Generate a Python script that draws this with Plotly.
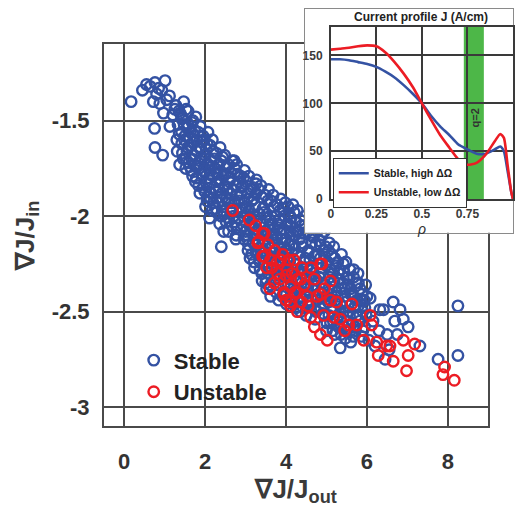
import plotly.graph_objects as go

# ---- scatter data: gradient ratios for stable / unstable equilibria ----
stable_x = [0.17, 0.45, 0.55, 0.64, 0.76, 0.85, 1.01, 0.93, 0.72, 0.88, 1.05, 1.25, 0.97, 1.12, 0.80,
            1.42, 0.75, 1.13, 0.76, 0.95, 1.20, 1.35,
            1.58, 1.42, 1.74, 1.95, 1.42, 1.66, 1.46, 1.37, 1.66, 1.87, 2.15, 1.99, 1.50, 1.62, 1.80,
            1.55, 1.72, 1.90, 2.05, 1.52, 1.78, 1.95, 2.10, 1.60, 1.85, 2.00, 2.20, 1.30, 1.48, 1.70,
            2.40, 2.72, 2.25, 2.50, 2.30, 2.60, 2.15, 2.35, 2.55, 2.75, 2.90, 2.11, 2.27, 2.52, 2.45,
            2.65, 2.85, 2.20, 2.40, 2.70, 2.90, 2.05, 2.35, 2.62, 2.80, 2.95, 2.40, 2.58, 2.78, 2.95,
            2.30, 2.12,
            3.26, 3.26, 3.05, 3.15, 3.40, 3.55, 3.70, 3.85, 3.00, 3.20, 3.45, 3.60, 3.80, 3.95, 3.10,
            3.30, 3.50, 3.75, 3.90, 3.05, 3.25, 3.45, 3.65, 3.85, 3.15, 3.35, 3.55, 3.75, 3.95, 3.40,
            3.62, 3.50, 3.80, 3.95, 3.00, 3.70, 3.20, 3.55,
            4.05, 4.20, 4.35, 4.10, 4.30, 4.45, 4.60, 4.85, 4.00, 4.20, 4.40, 4.55, 4.75, 4.95, 4.05,
            4.25, 4.45, 4.65, 4.85, 4.10, 4.30, 4.50, 4.70, 4.90, 4.15, 4.35, 4.55, 4.73, 4.95, 4.25,
            4.50, 4.75, 4.60, 4.80, 4.95,
            5.05, 5.20, 5.42, 5.67, 5.79, 5.10, 5.30, 5.50, 5.05, 5.25, 5.45, 5.65, 5.85, 5.15, 5.35,
            5.55, 5.75, 5.95, 5.10, 5.30, 5.50, 5.70, 5.20, 5.34, 5.60, 5.90, 5.00, 5.40, 5.60,
            6.00, 6.08, 6.32, 6.41, 6.65, 6.82, 6.90, 7.02, 6.69, 6.15, 6.30, 6.50, 6.20, 6.45, 6.55,
            7.31, 7.76, 8.25, 8.25, 6.05, 6.75,
            1.28, 1.33, 1.31, 1.47, 1.43, 1.49, 1.44, 1.58, 1.63, 1.57, 1.62,
            1.77, 1.73, 1.79, 1.74, 1.76, 1.88, 1.93, 1.89, 1.92, 1.87,
            2.07, 2.03, 2.08, 2.04, 2.06, 2.18, 2.23, 2.19, 2.22, 2.17,
            2.37, 2.33, 2.38, 2.34, 2.36, 2.48, 2.53, 2.49, 2.52, 2.47,
            2.67, 2.63, 2.68, 2.64, 2.66, 2.78, 2.83, 2.79, 2.82, 2.77,
            2.97, 2.93, 2.98, 2.94, 2.96, 3.08, 3.13, 3.09, 3.12, 3.07, 3.11,
            3.27, 3.23, 3.28, 3.24, 3.26, 3.22, 3.38, 3.43, 3.39, 3.42, 3.37, 3.41,
            3.57, 3.53, 3.58, 3.54, 3.56, 3.52, 3.68, 3.73, 3.69, 3.72, 3.67, 3.71,
            3.87, 3.83, 3.88, 3.84, 3.86, 3.82, 3.98, 4.03, 3.99, 4.02, 3.97, 4.01,
            4.17, 4.13, 4.18, 4.14, 4.16, 4.12, 4.17, 4.28, 4.33, 4.29, 4.32, 4.27, 4.31,
            4.47, 4.43, 4.48, 4.44, 4.46, 4.42, 4.58, 4.63, 4.59, 4.62, 4.57, 4.61,
            4.77, 4.73, 4.78, 4.74, 4.76, 4.72, 4.88, 4.93, 4.89, 4.92, 4.87, 4.91,
            5.07, 5.03, 5.08, 5.04, 5.06, 5.18, 5.23, 5.19, 5.22, 5.17,
            5.37, 5.33, 5.38, 5.34, 5.36, 5.48, 5.53, 5.49, 5.52, 5.47,
            5.67, 5.63, 5.68, 5.64, 5.66, 5.78, 5.83, 5.79, 5.82, 5.97, 5.93, 5.98, 5.94,
            1.38, 1.36, 1.53, 1.55, 1.52, 1.68, 1.70, 1.67, 1.69,
            1.83, 1.85, 1.82, 1.84, 1.98, 2.00, 1.97, 1.99, 2.01,
            2.13, 2.15, 2.12, 2.14, 2.28, 2.30, 2.27, 2.29,
            2.43, 2.45, 2.42, 2.44, 2.46, 2.58, 2.60, 2.57, 2.59,
            2.73, 2.75, 2.72, 2.74, 2.76, 2.88, 2.90, 2.87, 2.89,
            3.03, 3.05, 3.02, 3.04, 3.06, 3.18, 3.20, 3.17, 3.19, 3.21,
            3.33, 3.35, 3.32, 3.34, 3.36, 3.48, 3.50, 3.47, 3.49, 3.51,
            3.63, 3.65, 3.62, 3.64, 3.66, 3.61, 3.78, 3.80, 3.77, 3.79, 3.81, 3.76,
            3.93, 3.95, 3.92, 3.94, 3.96, 3.91, 4.08, 4.10, 4.07, 4.09, 4.11, 4.06,
            4.23, 4.25, 4.22, 4.24, 4.26, 4.21, 4.38, 4.40, 4.37, 4.39, 4.41, 4.36,
            4.53, 4.55, 4.52, 4.54, 4.56, 4.68, 4.70, 4.67, 4.69, 4.71,
            4.83, 4.85, 4.82, 4.84, 4.86, 4.98, 5.00, 4.97, 4.99, 5.01,
            5.13, 5.15, 5.12, 5.14, 5.16, 5.28, 5.30, 5.27, 5.29, 5.31,
            5.43, 5.45, 5.42, 5.44, 5.58, 5.60, 5.57, 5.59, 5.73, 5.75, 5.72, 5.88, 5.90, 5.87]
stable_y = [-1.40, -1.34, -1.31, -1.32, -1.30, -1.33, -1.29, -1.34, -1.40, -1.41, -1.39, -1.44, -1.46, -1.37, -1.36,
            -1.49, -1.54, -1.53, -1.64, -1.68, -1.47, -1.45,
            -1.52, -1.56, -1.55, -1.58, -1.62, -1.63, -1.70, -1.73, -1.76, -1.71, -1.71, -1.77, -1.58, -1.59, -1.60,
            -1.66, -1.68, -1.65, -1.62, -1.75, -1.80, -1.85, -1.80, -1.72, -1.75, -1.68, -1.66, -1.60, -1.52, -1.50,
            -1.71, -1.71, -1.75, -1.78, -1.82, -1.80, -1.88, -1.90, -1.86, -1.84, -1.85, -2.01, -1.96, -2.03, -1.95,
            -1.93, -1.92, -1.93, -2.00, -2.00, -1.98, -1.92, -1.86, -1.88, -1.78, -1.80, -2.16, -2.08, -2.06, -2.05,
            -1.78, -1.76,
            -1.83, -1.88, -1.88, -1.92, -1.90, -1.92, -1.95, -1.97, -1.95, -2.00, -1.98, -2.02, -2.04, -2.00, -2.05,
            -2.07, -2.08, -2.10, -2.12, -2.12, -2.15, -2.18, -2.16, -2.20, -2.20, -2.24, -2.26, -2.28, -2.30, -2.30,
            -2.42, -2.35, -2.36, -2.40, -2.08, -2.22, -2.10, -2.12,
            -1.95, -1.98, -2.02, -2.05, -2.08, -2.05, -2.10, -2.15, -2.12, -2.15, -2.14, -2.18, -2.20, -2.20, -2.22,
            -2.25, -2.24, -2.28, -2.30, -2.30, -2.34, -2.33, -2.36, -2.38, -2.40, -2.42, -2.44, -2.42, -2.46, -2.48,
            -2.52, -2.50, -1.98, -2.02, -2.08,
            -2.18, -2.22, -2.25, -2.28, -2.35, -2.28, -2.30, -2.32, -2.38, -2.40, -2.42, -2.42, -2.44, -2.48, -2.50,
            -2.50, -2.52, -2.48, -2.56, -2.58, -2.60, -2.58, -2.62, -2.69, -2.66, -2.60, -2.60, -2.35, -2.38,
            -2.42, -2.43, -2.49, -2.49, -2.45, -2.49, -2.54, -2.58, -2.55, -2.55, -2.60, -2.62, -2.68, -2.75, -2.70,
            -2.68, -2.75, -2.73, -2.47, -2.65, -2.62,
            -1.42, -1.52, -1.66, -1.40, -1.48, -1.60, -1.67, -1.45, -1.56, -1.64, -1.74,
            -1.48, -1.58, -1.66, -1.73, -1.82, -1.53, -1.61, -1.69, -1.78, -1.88,
            -1.56, -1.65, -1.73, -1.83, -1.90, -1.60, -1.70, -1.79, -1.85, -1.97,
            -1.64, -1.73, -1.81, -1.93, -2.04, -1.68, -1.74, -1.84, -1.91, -1.99,
            -1.71, -1.77, -1.86, -1.96, -2.05, -1.73, -1.82, -1.89, -2.01, -2.10,
            -1.76, -1.84, -1.93, -2.00, -2.12, -1.79, -1.86, -1.97, -2.01, -2.15, -2.22,
            -1.81, -1.94, -2.02, -2.12, -2.19, -2.27, -1.84, -1.96, -2.04, -2.14, -2.21, -2.34,
            -1.86, -1.99, -2.06, -2.20, -2.30, -2.38, -1.89, -2.00, -2.07, -2.14, -2.25, -2.33,
            -1.91, -2.02, -2.09, -2.16, -2.28, -2.44, -1.93, -2.04, -2.18, -2.26, -2.35, -2.46,
            -1.94, -2.01, -2.10, -2.19, -2.28, -2.37, -2.43, -1.97, -2.12, -2.20, -2.29, -2.38, -2.45,
            -2.00, -2.09, -2.22, -2.30, -2.36, -2.48, -2.03, -2.14, -2.23, -2.32, -2.40, -2.47,
            -2.08, -2.15, -2.25, -2.33, -2.44, -2.54, -2.10, -2.18, -2.27, -2.35, -2.43, -2.51,
            -2.14, -2.24, -2.32, -2.45, -2.52, -2.16, -2.26, -2.34, -2.44, -2.55,
            -2.20, -2.28, -2.38, -2.46, -2.62, -2.24, -2.36, -2.45, -2.55, -2.64,
            -2.32, -2.40, -2.48, -2.56, -2.63, -2.30, -2.38, -2.47, -2.55, -2.36, -2.44, -2.52, -2.58,
            -1.46, -1.57, -1.44, -1.53, -1.70, -1.51, -1.61, -1.70, -1.79,
            -1.56, -1.64, -1.74, -1.84, -1.60, -1.70, -1.76, -1.87, -1.95,
            -1.63, -1.74, -1.83, -1.91, -1.67, -1.77, -1.87, -1.98,
            -1.69, -1.79, -1.88, -1.97, -2.08, -1.73, -1.82, -1.93, -2.01,
            -1.75, -1.84, -1.93, -2.03, -2.12, -1.79, -1.88, -1.96, -2.07,
            -1.82, -1.91, -1.99, -2.10, -2.18, -1.85, -1.91, -2.05, -2.14, -2.24,
            -1.86, -1.99, -2.08, -2.17, -2.28, -1.89, -2.01, -2.10, -2.24, -2.33,
            -1.92, -2.04, -2.11, -2.19, -2.28, -2.36, -1.94, -2.06, -2.12, -2.21, -2.31, -2.40,
            -1.96, -2.07, -2.14, -2.22, -2.31, -2.42, -1.99, -2.08, -2.15, -2.24, -2.33, -2.44,
            -2.03, -2.08, -2.17, -2.25, -2.34, -2.42, -2.05, -2.16, -2.27, -2.35, -2.43, -2.50,
            -2.08, -2.19, -2.27, -2.37, -2.45, -2.11, -2.21, -2.30, -2.39, -2.49,
            -2.13, -2.22, -2.32, -2.40, -2.48, -2.16, -2.26, -2.36, -2.42, -2.56,
            -2.20, -2.30, -2.41, -2.50, -2.60, -2.24, -2.33, -2.42, -2.52, -2.57,
            -2.29, -2.38, -2.50, -2.58, -2.28, -2.41, -2.52, -2.60, -2.35, -2.44, -2.60, -2.41, -2.50, -2.63]

unstable_x = [2.68, 3.09, 3.46, 3.30, 3.42, 3.33, 3.42, 3.62, 3.87, 3.79, 4.03, 3.95, 4.11, 4.28, 4.11,
              3.71, 3.46, 3.79, 4.07, 4.00, 4.28, 4.61, 4.85, 5.10, 4.28, 4.52, 4.85, 4.11, 4.20, 4.89,
              4.36, 4.77, 5.10, 5.63, 5.34, 4.93, 4.61, 4.85, 5.02, 5.92, 6.08, 6.24, 6.57, 5.75, 5.55,
              5.18, 6.12, 6.28, 6.49, 6.65, 6.90, 7.02, 6.98, 7.18, 7.92, 7.88, 8.16, 3.95,
              3.55, 3.65, 3.85, 3.92, 4.15, 4.22, 4.40, 4.45, 4.55, 4.70, 4.95, 3.60, 4.00, 3.52,
              4.70, 5.25, 5.45, 4.38, 3.25, 3.72]
unstable_y = [-1.97, -2.02, -2.09, -2.14, -2.09, -2.13, -2.21, -2.23, -2.23, -2.30, -2.28, -2.41, -2.47, -2.50, -2.37,
              -2.35, -2.21, -2.24, -2.23, -2.31, -2.33, -2.27, -2.25, -2.34, -2.40, -2.42, -2.41, -2.45, -2.23, -2.25,
              -2.33, -2.42, -2.44, -2.46, -2.54, -2.52, -2.53, -2.62, -2.65, -2.65, -2.52, -2.66, -2.68, -2.57, -2.57,
              -2.53, -2.57, -2.73, -2.68, -2.76, -2.65, -2.73, -2.81, -2.67, -2.79, -2.83, -2.86, -2.40,
              -2.15, -2.27, -2.33, -2.20, -2.30, -2.40, -2.27, -2.36, -2.47, -2.33, -2.38, -2.38, -2.44, -2.27,
              -2.58, -2.45, -2.60, -2.45, -2.05, -2.18]

# ---- inset data: current density profiles J(rho) ----
rho = [0.0, 0.05, 0.1, 0.15, 0.2, 0.25, 0.3, 0.35, 0.4, 0.45, 0.5, 0.55, 0.6, 0.65, 0.7,
       0.75, 0.8, 0.85, 0.9, 0.93, 0.95, 0.97, 0.99, 1.0]
j_stable = [146, 146, 145, 143, 141, 138, 133, 127, 119, 110, 100, 87, 76, 67, 57,
            52, 47.5, 47.5, 52, 55, 50, 30, 8, 0]
j_unstable = [156, 157, 158, 159.5, 160.5, 159.5, 153, 143, 131, 117, 100, 83, 67, 54, 41.5,
              36, 38, 46.5, 60.5, 68, 64, 36, 8, 0]
q2_band = [0.73, 0.84]

BLUE = "#3452A3"
RED = "#EC1C24"
GRID = "#4a4a4a"
FONT = "Liberation Sans"
W, H = 515, 513


def px_x(p):
    return p / W


def px_y(p):
    return 1 - p / H


fig = go.Figure()

marker_common = dict(symbol="circle-open", size=10.5)
fig.add_trace(go.Scatter(x=stable_x, y=stable_y, mode="markers", name="Stable",
                         marker=dict(color=BLUE, line=dict(color=BLUE, width=2.4), **marker_common),
                         xaxis="x", yaxis="y", legend="legend"))
fig.add_trace(go.Scatter(x=unstable_x, y=unstable_y, mode="markers", name="Unstable",
                         marker=dict(color=RED, line=dict(color=RED, width=2.4), **marker_common),
                         xaxis="x", yaxis="y", legend="legend"))

# white panel behind the inset
fig.add_trace(go.Scatter(x=[], y=[], xaxis="x2", yaxis="y2", showlegend=False))

fig.add_trace(go.Scatter(x=rho, y=j_stable, mode="lines", name="Stable, high ΔΩ",
                         line=dict(color=BLUE, width=2.6, shape="spline", smoothing=0.6),
                         xaxis="x3", yaxis="y3", legend="legend2"))
fig.add_trace(go.Scatter(x=rho, y=j_unstable, mode="lines", name="Unstable, low ΔΩ",
                         line=dict(color=RED, width=2.6, shape="spline", smoothing=0.6),
                         xaxis="x3", yaxis="y3", legend="legend2"))

tick_main = dict(family=FONT, size=22, color="#333333", weight="bold")
tick_inset = dict(family=FONT, size=12, color="#3a3a3a", weight="bold")

fig.update_layout(
    width=W, height=H,
    margin=dict(l=0, r=0, t=0, b=0),
    paper_bgcolor="white",
    plot_bgcolor="white",
    xaxis=dict(domain=[px_x(102), px_x(490)], range=[-0.5, 9], anchor="y",
               tickvals=[0, 2, 4, 6, 8], ticktext=["0", "2", "4", "6", "8"],
               showgrid=True, gridcolor=GRID, gridwidth=2, zeroline=False,
               showline=True, linecolor=GRID, linewidth=2, mirror=True, ticks="",
               tickfont=tick_main, ticklabelstandoff=14,
               title=dict(text="∇J/J<sub>out</sub>", standoff=6,
                          font=dict(family=FONT, size=26, color="#3a3a3a", weight="bold"))),
    yaxis=dict(domain=[px_y(432), px_y(45)], range=[-3.1, -1.1], anchor="x",
               tickvals=[-3, -2.5, -2, -1.5], ticktext=["-3", "-2.5", "-2", "-1.5"],
               showgrid=True, gridcolor=GRID, gridwidth=2, zeroline=False,
               showline=True, linecolor=GRID, linewidth=2, mirror=True, ticks="",
               tickfont=tick_main, ticklabelstandoff=8,
               title=dict(text="∇J/J<sub>in</sub>", standoff=10,
                          font=dict(family=FONT, size=26, color="#3a3a3a", weight="bold"))),
    xaxis2=dict(domain=[px_x(305), 1.0], range=[0, 1], anchor="y2",
                showgrid=False, zeroline=False, showticklabels=False, ticks="",
                showline=True, linecolor="#8a8a8a", linewidth=1, mirror=True),
    yaxis2=dict(domain=[px_y(236), px_y(9)], range=[0, 1], anchor="x2",
                showgrid=False, zeroline=False, showticklabels=False, ticks="",
                showline=True, linecolor="#8a8a8a", linewidth=1, mirror=True),
    xaxis3=dict(domain=[px_x(331), 1.0], range=[0, 1], anchor="y3",
                tickvals=[0, 0.25, 0.5, 0.75, 1], ticktext=["0", "0.25", "0.5", "0.75", "1"],
                showgrid=True, gridcolor="#3a3a3a", gridwidth=1.6, zeroline=False,
                showline=True, linecolor="#3a3a3a", linewidth=1.6, mirror=True, ticks="",
                tickfont=tick_inset, ticklabelstandoff=3,
                title=dict(text="<i>ρ</i>", standoff=2,
                           font=dict(family=FONT, size=14, color="#333333"))),
    yaxis3=dict(domain=[px_y(202), px_y(27)], range=[0, 180], anchor="x3",
                tickvals=[0, 50, 100, 150], ticktext=["0", "50", "100", "150"],
                showgrid=True, gridcolor="#3a3a3a", gridwidth=1.6, zeroline=False,
                showline=True, linecolor="#3a3a3a", linewidth=1.6, mirror=True, ticks="",
                tickfont=tick_inset, ticklabelstandoff=4),
    legend=dict(x=px_x(132), y=px_y(344), xanchor="left", yanchor="top",
                bgcolor="rgba(0,0,0,0)", borderwidth=0, itemwidth=30,
                font=dict(family=FONT, size=22, color="#222222", weight="bold")),
    legend2=dict(x=px_x(333), y=px_y(160), xanchor="left", yanchor="top",
                 bgcolor="white", bordercolor="#333333", borderwidth=1, itemwidth=30,
                 tracegroupgap=0,
                 font=dict(family=FONT, size=10.5, color="#222222", weight="bold")),
    showlegend=True,
)

# q = 2 surface band
fig.add_shape(type="rect", xref="x3", yref="y3", x0=q2_band[0], x1=q2_band[1], y0=0, y1=180,
              fillcolor="#4DB748", line=dict(width=0), layer="below")

fig.add_annotation(xref="x3", yref="y3", x=0.79, y=85, text="q=2", textangle=-90,
                   showarrow=False, font=dict(family=FONT, size=11, color="#333333", weight="bold"))
fig.add_annotation(xref="paper", yref="paper", x=px_x(422), y=px_y(17), text="Current profile J (A/cm)",
                   showarrow=False, xanchor="center", yanchor="middle",
                   font=dict(family=FONT, size=12, color="#222222", weight="bold"))

fig.write_html("out.html")
